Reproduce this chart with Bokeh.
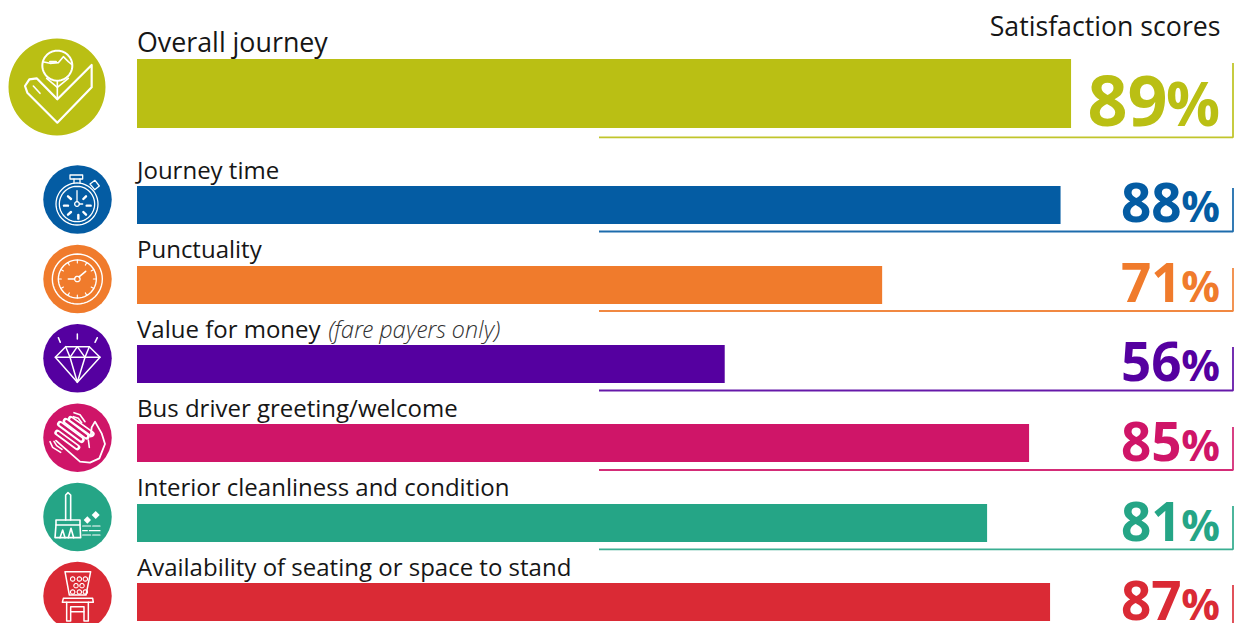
import numpy as np
from bokeh.plotting import figure
from bokeh.models import ColumnDataSource, Range1d
from bokeh.core.properties import value
from bokeh.embed import file_html
from bokeh.resources import INLINE

categories = ["Overall journey", "Journey time", "Punctuality", "Value for money",
              "Bus driver greeting/welcome", "Interior cleanliness and condition",
              "Availability of seating or space to stand"]
scores = [89, 88, 71, 56, 85, 81, 87]
colors = ["#BABF14", "#045CA3", "#F07B2C", "#5500A0", "#CF1568", "#25A586", "#DA2A35"]
header = "Satisfaction scores"
note = "(fare payers only)"

# layout, in page pixels
W, H = 1234, 623
X0 = 137.0
PX_PER_PCT = 10.495
bar_top = [59, 186, 266, 345, 424, 504, 583]
bar_bot = [128, 224, 304, 383, 462, 542, 621]
label_base = [51.5, 178.5, 257.5, 337.5, 416.5, 495.5, 575.5]
label_size = [26.8, 24, 24, 24, 24, 24, 24]
num_base = [126, 222, 302, 381, 461, 541, 620]
rule_y = [137.3, 231.5, 311, 390.5, 470, 549.3, 628]
rule_top = [63, 188, 268, 347, 427, 506, 585]
icon_cy = [87, 199.5, 279, 358.3, 437.7, 517, 596]
WHITE = "#FFFFFF"
K = 0.37  # text anchor correction, in em
S = 0.5   # half-pixel alignment of the canvas

p = figure(width=W, height=H, output_backend="svg", toolbar_location=None,
           x_range=Range1d((S - X0) / PX_PER_PCT, (W + S - X0) / PX_PER_PCT),
           y_range=Range1d(H + S, S), x_axis_type=None, y_axis_type=None,
           min_border=0, outline_line_color=None, background_fill_color="white")
p.extra_x_ranges["px"] = Range1d(S, W + S)
p.grid.visible = False

src = ColumnDataSource(dict(
    y=[(a + b) / 2 for a, b in zip(bar_top, bar_bot)],
    h=[b - a for a, b in zip(bar_top, bar_bot)],
    right=scores, color=colors))
p.hbar(y="y", height="h", left=0, right="right", fill_color="color", line_color=None, source=src)

FONT = value("Open Sans")
def put(x, base, txt, size, color, align="left", style="normal", font=FONT, rng="px"):
    p.text(x=[x], y=[base - K * size], text=[txt], x_range_name=rng, text_font=font,
           text_font_style=style, text_font_size=value(f"{size}px"), text_color=color,
           text_align=align, text_baseline="alphabetic")

for cat, b, sz in zip(categories, label_base, label_size):
    put(X0, b, cat, sz, "#161616")
put(328, 337.5, note, 23.8, "#333333", style="italic", font=value("Open Sans Light"))
put(1220.5, 35.5, header, 26.7, "#161616", align="right")

# score numbers and percent signs
for i, (s, c) in enumerate(zip(scores, colors)):
    big = i == 0
    put(1167.5 if big else 1181.5, num_base[i], str(s), 70 if big else 53, c, "right", "bold")
    put(1220, num_base[i] - 0.5, "%", 60 if big else 43, c, "right", "bold")
    p.line([599, 1233, 1233], [rule_y[i], rule_y[i], rule_top[i]], x_range_name="px",
           line_color=c, line_width=1.8, line_alpha=0.9)
    p.scatter(x=[57 if big else 77.5], y=[icon_cy[i]], size=97 if big else 68.5, marker="circle",
              x_range_name="px", fill_color=c, line_color=None)

# icons: strokes given in 3x crop coordinates, converted to pixels
def stroke(pts, yoff=0, w=1.5, color=WHITE):
    a = np.array(pts, dtype=float)
    p.line(a[:, 0] / 3, a[:, 1] / 3 + yoff, x_range_name="px", line_color=color,
           line_width=w, line_join="round", line_cap="round")

def ring(cx, cy, r, yoff=0, w=1.5):
    t = np.linspace(0, 2 * np.pi, 49)
    stroke(np.c_[cx + r * np.cos(t), cy + r * np.sin(t)], yoff, w)

# overall journey
ring(172, 197, 45, w=2)
stroke([(275, 195), (275, 262), (172, 368), (82, 278), (75, 258), (88, 238), (110, 235), (172, 298), (275, 195)], w=2.2)
stroke([(140, 235), (172, 262), (205, 235)], w=1.6)
stroke([(172, 245), (172, 298)], w=1.6)
stroke([(128, 185), (150, 190), (175, 188), (190, 170), (205, 185), (217, 195)], w=1.6)
stroke([(150, 185), (168, 185)], w=2)
stroke([(100, 258), (120, 280)], w=1.6)

# stopwatch
ring(231, 612, 63, w=1.3)
ring(231, 612, 53, w=1.3)
ring(231, 612, 7, w=1.3)
stroke([(210, 525), (248, 525), (248, 537), (210, 537), (210, 525)], w=1.3)
stroke([(222, 537), (222, 550)], w=1.3)
stroke([(240, 537), (240, 550)], w=1.3)
stroke([(270, 552), (285, 541), (298, 558), (284, 569), (270, 552)], w=1.3)
stroke([(231, 605), (231, 572)], w=1.3)
stroke([(238, 612), (248, 612)], w=1.3)
for a, b in [((204, 589), (213, 597)), ((258, 589), (250, 597)), ((192, 617), (204, 617)),
             ((260, 617), (272, 617)), ((204, 644), (213, 636)), ((258, 644), (250, 636)),
             ((235, 645), (235, 656))]:
    stroke([a, b], w=2.4)

# clock
yo = 240
ring(232, 117, 75, yo, 1.4)
ring(232, 117, 57, yo, 1.4)
ring(232, 117, 8, yo, 1.4)
stroke([(224, 117), (205, 117)], yo, 1.6)
stroke([(238, 110), (257, 94)], yo, 1.6)
for k in range(12):
    t = k * np.pi / 6
    stroke([(232 + 48 * np.cos(t), 117 + 48 * np.sin(t)), (232 + 57 * np.cos(t), 117 + 57 * np.sin(t))], yo, 1.1)

# diamond
stroke([(175, 293), (181, 307)], yo)
stroke([(232, 282), (232, 297)], yo)
stroke([(292, 293), (285, 307)], yo)
stroke([(197, 320), (268, 320), (300, 352), (232, 427), (166, 352), (197, 320)], yo)
stroke([(166, 352), (300, 352)], yo)
stroke([(197, 320), (210, 352), (232, 320), (255, 352), (268, 320)], yo)
stroke([(210, 352), (232, 427), (255, 352)], yo)

# waving hand
for a, b in [((180, 552), (245, 600)), ((172, 578), (232, 622)), ((197, 543), (260, 590)), ((212, 537), (275, 582))]:
    stroke([a, b], yo, 6)
for a, b in [((182, 553), (243, 598)), ((174, 579), (230, 620)), ((199, 544), (258, 588)), ((214, 538), (273, 580))]:
    stroke([a, b], yo, 2.4, colors[4])
stroke([(168, 602), (240, 665), (270, 668), (298, 655), (315, 612), (305, 580), (285, 545), (275, 562), (272, 590)], yo, 1.8)
stroke([(265, 600), (268, 622)], yo, 1.6)
stroke([(222, 518), (240, 524), (255, 545)], yo, 1.6)
stroke([(220, 530), (235, 535), (245, 548)], yo, 1.6)
stroke([(150, 605), (158, 622), (182, 637)], yo, 1.6)
stroke([(162, 604), (170, 617), (186, 628)], yo, 1.6)

# broom
stroke([(197, 840), (197, 765), (204, 758), (212, 765), (212, 840)], yo, 1.6)
stroke([(168, 840), (240, 840), (240, 855), (168, 855), (168, 840)], yo, 1.6)
stroke([(168, 855), (165, 893), (242, 893), (240, 855)], yo, 1.6)
stroke([(180, 893), (188, 870), (195, 893)], yo, 1.6)
stroke([(205, 893), (213, 865), (221, 893)], yo, 1.6)
for cx, cy, r in [(262, 840, 11), (287, 825, 12)]:
    a = np.array([(cx - r, cy), (cx, cy - r), (cx + r, cy), (cx, cy + r)], dtype=float)
    p.patch(a[:, 0] / 3, a[:, 1] / 3 + yo, x_range_name="px", fill_color=WHITE, line_color=None)
for seg in [((248, 858), (272, 858)), ((278, 858), (300, 858)), ((248, 872), (262, 872)),
            ((268, 872), (300, 872)), ((248, 885), (272, 885)), ((278, 885), (300, 885))]:
    stroke(seg, yo, 1.2)

# chair
stroke([(195, 995), (272, 995), (258, 1065), (208, 1065), (195, 995)], yo, 1.5)
for x, y in [(218, 1017), (238, 1017), (256, 1017), (228, 1037), (246, 1037), (218, 1056), (238, 1056), (256, 1056)]:
    ring(x, y, 6.5, yo, 1.1)
stroke([(190, 1075), (278, 1075), (280, 1087), (187, 1087), (190, 1075)], yo, 1.5)
stroke([(200, 1087), (200, 1143), (212, 1143), (212, 1100), (252, 1100), (252, 1143), (265, 1143), (265, 1087)], yo, 1.5)
stroke([(212, 1115), (252, 1115)], yo, 1.5)

open("out.html", "w").write(file_html(p, INLINE))
